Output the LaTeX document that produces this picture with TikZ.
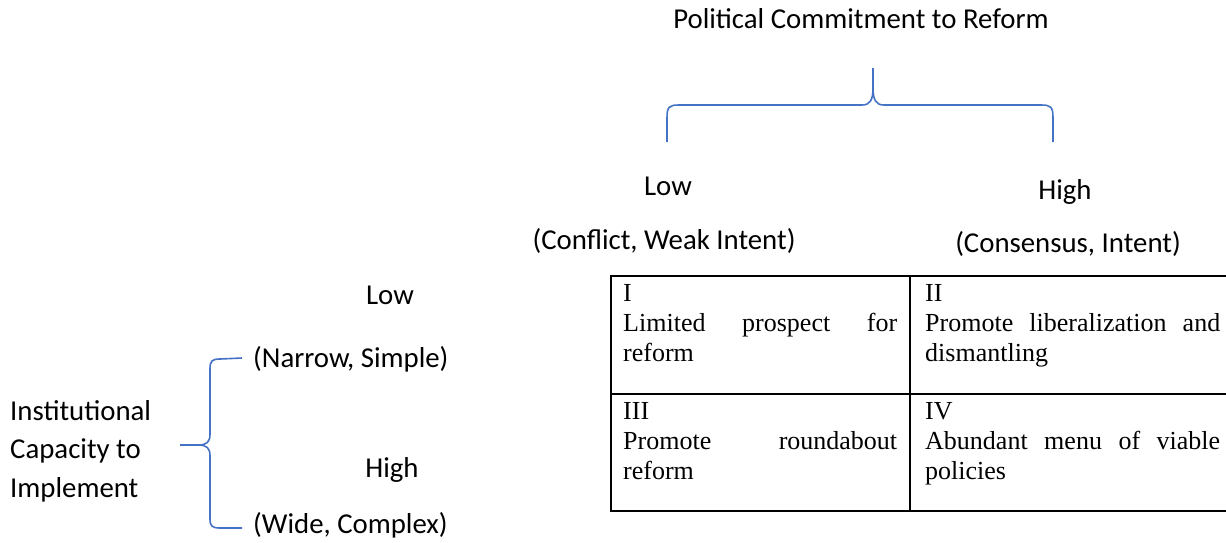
\documentclass[tikz,border=0pt]{standalone}
\usepackage{fontspec}
\setmainfont{Carlito}
\newfontfamily\cellfont{Liberation Serif}
\usetikzlibrary{calc}
\definecolor{braceblue}{RGB}{68,114,196}

\tikzset{
  axistext/.style={font=\fontsize{28.8}{38.5}\selectfont, inner sep=0pt},
  celltext/.style={font=\cellfont\fontsize{26}{30}\selectfont, inner sep=0pt,
    anchor=north west, align=justify,
    execute at begin node={\tolerance=10000\hyphenpenalty=10000\hbadness=10000}},
  brace/.style={braceblue, line width=1.6pt, line join=round},
  tableline/.style={black, line width=2pt}
}

\begin{document}
\begin{tikzpicture}[x=1pt, y=-1pt]
\useasboundingbox (0,0) rectangle (1226,542);

% Commitment axis (top)
\node[axistext, anchor=base] (title) at (861,28) {Political Commitment to Reform};
\node[axistext, anchor=base] (lowtop) at (668,195) {Low};
\node[axistext, anchor=base] (hightop) at (1065,199) {High};
\node[axistext, anchor=base] (conflict) at (664,249) {(Conflict, Weak Intent)};
\node[axistext, anchor=base] (consensus) at (1068,252) {(Consensus, Intent)};

% Top brace
\coordinate (toptip) at (873,68);
\coordinate (topleft) at (667,142);
\coordinate (topright) at (1053,142);
\draw[brace] (topleft) -- (667,118) .. controls (667,107) and (669,105) .. (679,105)
  -- (862,105) .. controls (870,105) and (873,100) .. (873,88) -- (toptip);
\draw[brace] (toptip) -- (873,88) .. controls (873,100) and (876,105) .. (884,105)
  -- (1041,105) .. controls (1051,105) and (1053,107) .. (1053,118) -- (topright);

% Capacity axis (left)
\node[axistext, anchor=base] (lowleft) at (390,304) {Low};
\node[axistext, anchor=base west] (narrow) at (253,367) {(Narrow, Simple)};
\node[axistext, anchor=base west, align=left] (capacity) at (10,497)
  {Institutional\\Capacity to\\Implement};
\node[axistext, anchor=base] (highleft) at (392,477) {High};
\node[axistext, anchor=base west] (wide) at (253,533) {(Wide, Complex)};

% Left brace
\coordinate (lefttip) at (180,445);
\coordinate (lefttop) at (242,358);
\coordinate (leftbottom) at (242,528);
\draw[brace] (lefttop) -- (220,359) .. controls (212,359) and (210,361) .. (210,369)
  -- (210,434) .. controls (210,442) and (207,445) .. (198,445) -- (lefttip);
\draw[brace] (lefttip) -- (198,445) .. controls (207,445) and (210,448) .. (210,456)
  -- (210,519) .. controls (210,526) and (212,528) .. (220,528) -- (leftbottom);

% Table
\draw[tableline] (1226,276) -- (611,276) -- (611,511) -- (1226,511);
\draw[tableline] (611,394) -- (1226,394);
\draw[tableline] (910,276) -- (910,511);

\node[celltext, text width=274pt] (cellI) at (623,284) {I\\Limited prospect for reform};
\node[celltext, text width=295pt] (cellII) at (925,284) {II\\Promote liberalization and dismantling};
\node[celltext, text width=274pt] (cellIII) at (623,402) {III\\Promote roundabout reform};
\node[celltext, text width=295pt] (cellIV) at (925,402) {IV\\Abundant menu of viable policies};
\end{tikzpicture}
\end{document}
